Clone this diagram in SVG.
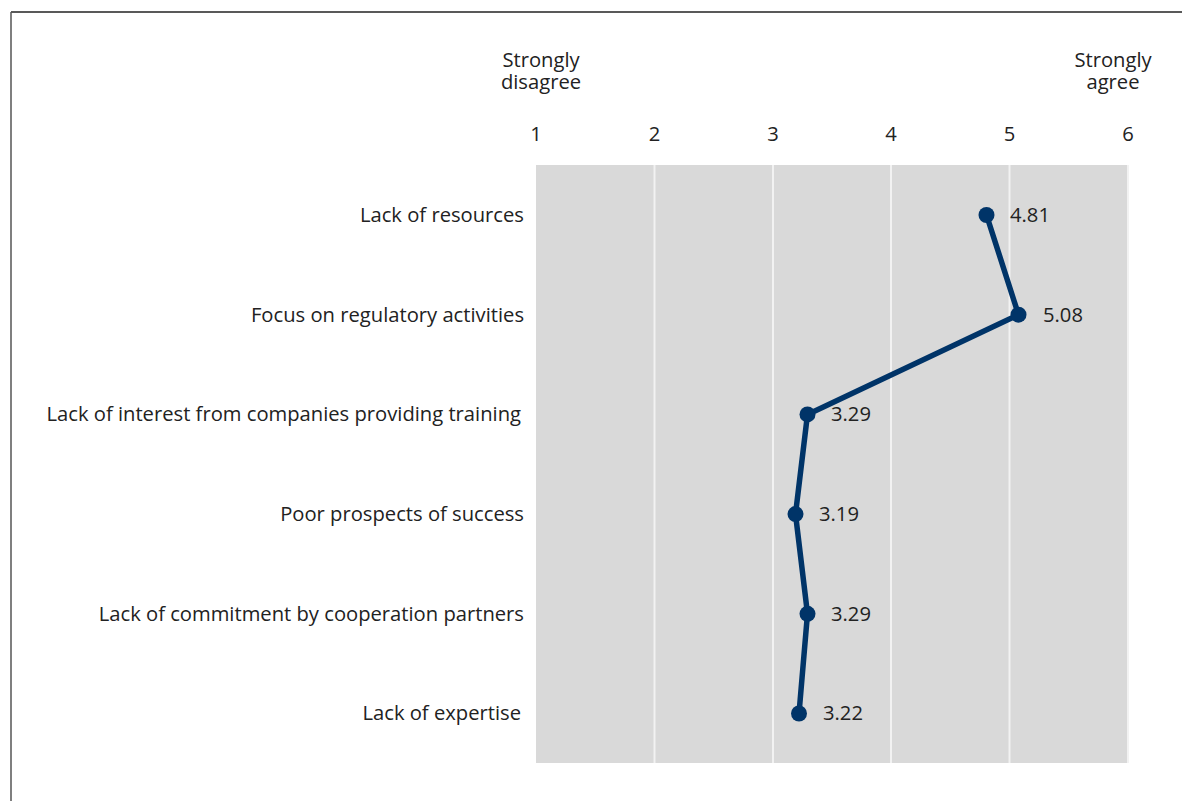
<svg xmlns="http://www.w3.org/2000/svg" width="1182" height="801" viewBox="0 0 1182 801">
<style>
text{font-family:"Open Sans","Noto Sans","Liberation Sans",sans-serif;font-size:20.2px;fill:#222}
.lbl{text-anchor:end}
.tick{text-anchor:middle}
.grid{stroke:#f2f2f2;stroke-width:2}
.pt{fill:#003468}
</style>
<rect width="1182" height="801" fill="#fff"/>
<g id="frame">
<line x1="11" y1="12" x2="1182" y2="12" stroke="#222" stroke-width="1.5"/>
<line x1="11" y1="12" x2="11" y2="801" stroke="#555" stroke-width="1.5"/>
</g>
<g id="plot">
<rect x="536" y="165" width="591" height="598" fill="#d9d9d9"/>
<line class="grid" x1="654.5" y1="165" x2="654.5" y2="763"/>
<line class="grid" x1="773" y1="165" x2="773" y2="763"/>
<line class="grid" x1="891" y1="165" x2="891" y2="763"/>
<line class="grid" x1="1009.5" y1="165" x2="1009.5" y2="763"/>
<line class="grid" x1="1128" y1="165" x2="1128" y2="763"/>
</g>
<g id="axis">
<text class="tick" x="541" y="66.5">Strongly<tspan x="541" dy="22.5">disagree</tspan></text>
<text class="tick" x="1113" y="66.5">Strongly<tspan x="1113" dy="22.5">agree</tspan></text>
<text class="tick" x="536" y="141">1</text>
<text class="tick" x="654.5" y="141">2</text>
<text class="tick" x="773" y="141">3</text>
<text class="tick" x="891" y="141">4</text>
<text class="tick" x="1009.5" y="141">5</text>
<text class="tick" x="1128" y="141">6</text>
</g>
<g id="labels">
<text class="lbl" x="524" y="222">Lack of resources</text>
<text class="lbl" x="524" y="322">Focus on regulatory activities</text>
<text class="lbl" x="521" y="421">Lack of interest from companies providing training</text>
<text class="lbl" x="524" y="521">Poor prospects of success</text>
<text class="lbl" x="524" y="621">Lack of commitment by cooperation partners</text>
<text class="lbl" x="521" y="720">Lack of expertise</text>
</g>
<g id="connectors">
<polyline points="986.5,215 1018.5,314.7 807.5,414.4 795.5,514.1 807.5,613.8 799,713.5" fill="none" stroke="#003468" stroke-width="5.5" stroke-linejoin="round"/>
</g>
<g id="points">
<g id="p1"><circle class="pt" cx="986.5" cy="215" r="8"/><text x="1010" y="222">4.81</text></g>
<g id="p2"><circle class="pt" cx="1018.5" cy="314.7" r="8"/><text x="1043" y="322">5.08</text></g>
<g id="p3"><circle class="pt" cx="807.5" cy="414.4" r="8"/><text x="831" y="421">3.29</text></g>
<g id="p4"><circle class="pt" cx="795.5" cy="514.1" r="8"/><text x="819" y="521">3.19</text></g>
<g id="p5"><circle class="pt" cx="807.5" cy="613.8" r="8"/><text x="831" y="621">3.29</text></g>
<g id="p6"><circle class="pt" cx="799" cy="713.5" r="8"/><text x="823" y="720">3.22</text></g>
</g>
</svg>
